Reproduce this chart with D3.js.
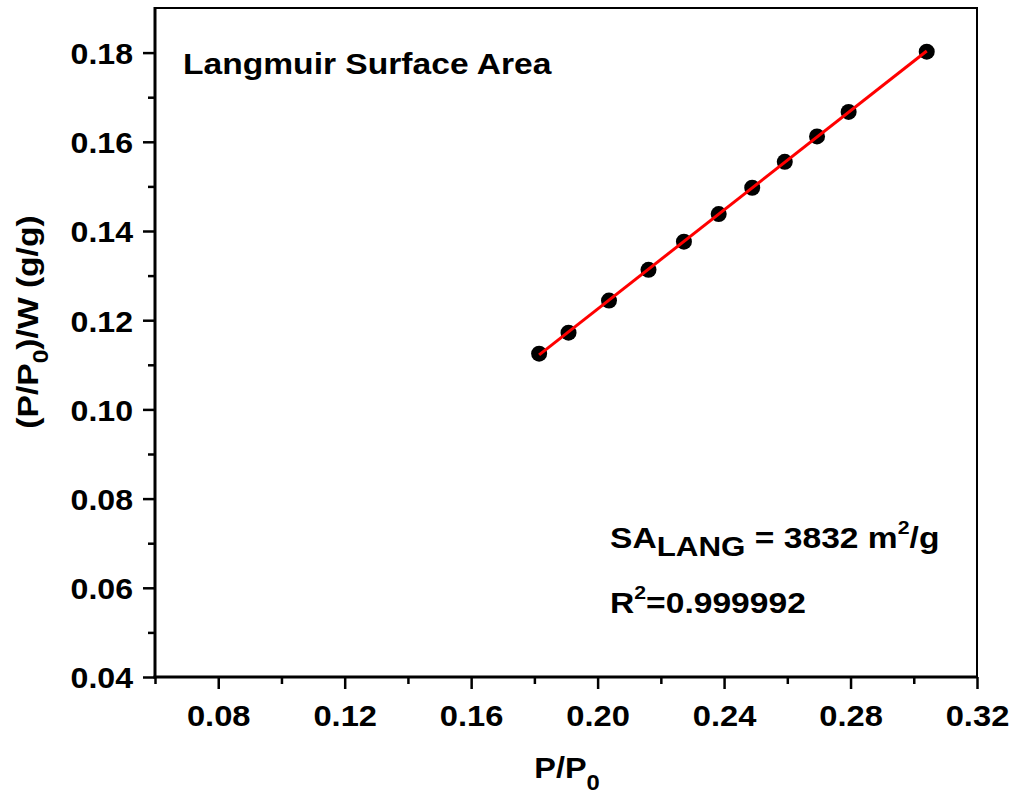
<!DOCTYPE html>
<html>
<head>
<meta charset="utf-8">
<script src="https://cdn.jsdelivr.net/npm/d3@7"></script>
<style>
  body { margin: 0; background: #fff; }
  svg { display: block; }
  text { font-family: "Liberation Sans", Arial, sans-serif; font-weight: bold; fill: #000; }
</style>
</head>
<body>
<svg id="chart" width="1016" height="802"></svg>
<script>
// Langmuir plot data: relative pressure vs (P/P0)/W
const pressure = [0.1815, 0.1908, 0.2036, 0.2161, 0.2273, 0.2383, 0.2489, 0.2592, 0.2694, 0.2794, 0.3041];
const langmuirY = [0.1125, 0.1172, 0.1244, 0.1313, 0.1376, 0.1438, 0.1497, 0.1555, 0.1612, 0.1667, 0.1802];
const xTicks = [0.08, 0.12, 0.16, 0.20, 0.24, 0.28, 0.32];
const xMinorTicks = [0.06, 0.10, 0.14, 0.18, 0.22, 0.26, 0.30];
const yTicks = [0.04, 0.06, 0.08, 0.10, 0.12, 0.14, 0.16, 0.18];
const yMinorTicks = [0.05, 0.07, 0.09, 0.11, 0.13, 0.15, 0.17];

const svg = d3.select("#chart");
const plotL = 155, plotR = 977, plotT = 8, plotB = 677;
const FS = 30;        // base font size
const SX_TICK = 1.07; // horizontal widening of tick labels
const SX_NOTE = 1.12; // horizontal widening of annotations and titles

const x = d3.scaleLinear().domain([0.06, 0.32]).range([plotL, plotR]);
const y = d3.scaleLinear().domain([0.04, 0.19]).range([plotB, plotT]);

// frame (top and right)
svg.append("path")
  .attr("d", `M${plotL},${plotT}H${plotR}V${plotB}`)
  .attr("fill", "none").attr("stroke", "#000").attr("stroke-width", 2);

// x axis
const gx = svg.append("g").attr("transform", `translate(0,${plotB})`);
gx.call(d3.axisBottom(x).tickValues(xTicks).tickSize(12).tickFormat(d3.format(".2f")));
const gxm = gx.append("g").call(d3.axisBottom(x).tickValues(xMinorTicks).tickSize(7).tickFormat(""));
gxm.select(".domain").remove();
gx.select(".domain").attr("stroke-width", 3).attr("d", `M${plotL - 1.5},0H${plotR + 1}`);
gx.selectAll(".tick line").attr("stroke-width", 2.5);
gx.selectAll(".tick text")
  .attr("y", 49).attr("dy", null)
  .attr("transform", `scale(1.09,1)`)
  .style("font-size", FS + "px")
  .style("font-family", '"Liberation Sans", Arial, sans-serif')
  .style("font-weight", "bold");

// y axis
const gy = svg.append("g").attr("transform", `translate(${plotL},0)`);
gy.call(d3.axisLeft(y).tickValues(yTicks).tickSize(12).tickFormat(d3.format(".2f")));
const gym = gy.append("g").call(d3.axisLeft(y).tickValues(yMinorTicks).tickSize(7).tickFormat(""));
gym.select(".domain").remove();
gy.select(".domain").attr("stroke-width", 3).attr("d", `M0,${plotB + 1.5}V${plotT - 1}`);
gy.selectAll(".tick line").attr("stroke-width", 2.5);
gy.selectAll(".tick text")
  .attr("x", -22 / SX_TICK).attr("dy", "0.36em")
  .attr("transform", `scale(${SX_TICK},1)`)
  .style("font-size", FS + "px")
  .style("font-family", '"Liberation Sans", Arial, sans-serif')
  .style("font-weight", "bold");

// least-squares fit
const n = pressure.length;
const mx = d3.mean(pressure), my = d3.mean(langmuirY);
let sxy = 0, sxx = 0;
for (let i = 0; i < n; i++) { sxy += (pressure[i] - mx) * (langmuirY[i] - my); sxx += (pressure[i] - mx) ** 2; }
const slope = sxy / sxx, intercept = my - slope * mx;
const xs = d3.extent(pressure);

// points
const pts = pressure.map((p, i) => ({ p, v: langmuirY[i] }));
svg.append("g").selectAll("circle").data(pts).join("circle")
  .attr("cx", d => x(d.p)).attr("cy", d => y(d.v)).attr("r", 8).attr("fill", "#000");

svg.append("line")
  .attr("x1", x(xs[0])).attr("y1", y(intercept + slope * xs[0]))
  .attr("x2", x(xs[1])).attr("y2", y(intercept + slope * xs[1]))
  .attr("stroke", "#ff0000").attr("stroke-width", 3);

// text placed at (tx,ty), widened horizontally
function label(tx, ty, anchor, rot, sx) {
  return svg.append("text")
    .attr("transform", `translate(${tx},${ty})${rot ? ` rotate(${rot})` : ""} scale(${sx || SX_NOTE},1)`)
    .attr("text-anchor", anchor || "start")
    .style("font-size", FS + "px");
}

// annotations
label(183, 74).text("Langmuir Surface Area");

const sa = label(610, 548);
sa.append("tspan").text("SA");
sa.append("tspan").attr("dy", 8).style("font-size", "28px").text("LANG");
sa.append("tspan").attr("dy", -8).text(" = 3832 m");
sa.append("tspan").attr("dy", -14).style("font-size", "19px").text("2");
sa.append("tspan").attr("dy", 14).text("/g");

const r2 = label(610, 613);
r2.append("tspan").text("R");
r2.append("tspan").attr("dy", -14).style("font-size", "19px").text("2");
r2.append("tspan").attr("dy", 14).text("=0.999992");

// axis titles
const xt = label(567, 778, "middle", 0, 1.08);
xt.append("tspan").text("P/P");
xt.append("tspan").attr("dy", 12).style("font-size", "22px").text("0");

const yt = label(38, 322, "middle", -90);
yt.append("tspan").text("(P/P");
yt.append("tspan").attr("dy", 10).style("font-size", "22px").text("0");
yt.append("tspan").attr("dy", -10).text(")/W (g/g)");
</script>
</body>
</html>
